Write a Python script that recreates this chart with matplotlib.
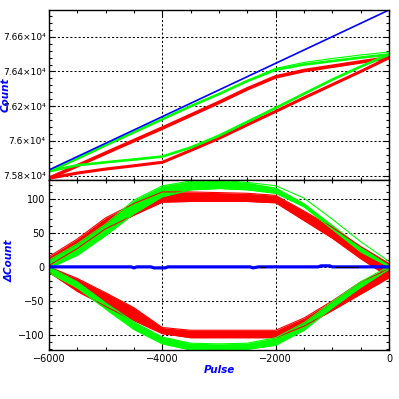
import matplotlib
matplotlib.use("Agg")
import matplotlib.pyplot as plt
from matplotlib.ticker import MultipleLocator, FuncFormatter

# ---------------- data ----------------
X = [-6000, -5500, -5000, -4500, -4000, -3500, -3000, -2500, -2000, -1500, -1000, -500, 0]

# top panel: Count
TOP_BLUE_X = [-6000, 0]
TOP_BLUE = [75833, 76754]
TOP_GREEN_UP = [75823, 75898, 75975, 76050, 76125, 76200, 76270, 76345, 76410, 76440, 76460, 76480, 76498]
TOP_GREEN_UP_OUT = [75823, 75898, 75975, 76050, 76125, 76200, 76270, 76348, 76418, 76452, 76475, 76495, 76512]
TOP_RED_UP = [75785, 75857, 75930, 76002, 76074, 76148, 76222, 76300, 76369, 76405, 76430, 76455, 76479]
TOP_GREEN_LO = [75825, 75860, 75877, 75893, 75910, 75962, 76030, 76110, 76190, 76272, 76353, 76428, 76498]
TOP_RED_LO = [75785, 75815, 75838, 75857, 75877, 75945, 76015, 76093, 76170, 76248, 76324, 76400, 76479]

# bottom panel: delta Count (band edges)
G_UP_HI = [10, 34, 63, 98, 119, 126, 127, 124, 117, 94, 62, 30, 3]
G_UP_LO = [-2, 17, 46, 78, 103, 113, 115, 113, 108, 88, 55, 22, 0]
G_UP_OUT = [10, 34, 63, 98, 119, 126, 127, 124, 119, 101, 70, 37, 8]
R_UP_HI = [15, 41, 72, 93, 110, 110, 109, 108, 105, 82, 58, 30, 5]
R_UP_LO = [2, 27, 56, 76, 95, 96, 96, 96, 94, 68, 42, 12, -15]
G_LO_HI = [0, -22, -53, -81, -103, -112, -113, -112, -104, -82, -51, -22, 1]
G_LO_LO = [-9, -31, -62, -92, -113, -122, -123, -121, -115, -93, -60, -30, -3]
R_LO_HI = [0, -17, -38, -60, -89, -93, -93, -93, -93, -75, -50, -22, -3]
R_LO_LO = [-8, -36, -58, -79, -98, -104, -104, -104, -104, -87, -64, -40, -16]

BLUE_X = [-6000, -4550, -4500, -4450, -4200, -4150, -3950, -3900, -2450, -2400, -2300, -1250, -1200, -1050, -1000, 0]
BLUE_Y = [0, 0, -1.5, 0, 0, -1.5, -1.5, 0, 0, -1.5, 0, 0, 1.5, 1.5, 0, 0]
BLACK_SEGS = [(-2280, -2180), (-950, -550)]

TOP_YTICKS = [75800, 76000, 76200, 76400, 76600]
BOT_YTICKS = [-100, -50, 0, 50, 100]
XTICKS = [-6000, -4000, -2000, 0]

RED = "#ff0000"
GREEN = "#00ff00"
BLUE = "#0000ff"

# ---------------- figure ----------------
W = 399
fig = plt.figure(figsize=(3.99, 3.99), dpi=100)
ax1 = fig.add_axes([49 / W, 1 - 180 / W, 340 / W, 170 / W])
ax2 = fig.add_axes([49 / W, 1 - 350 / W, 340 / W, 170 / W])

# top
ax1.plot(X, TOP_RED_LO, color=RED, lw=2.2, solid_capstyle="butt")
ax1.plot(X, TOP_RED_UP, color=RED, lw=2.6, solid_capstyle="butt")
ax1.plot(X, TOP_GREEN_LO, color=GREEN, lw=1.9, solid_capstyle="butt")
ax1.plot(X, TOP_GREEN_UP_OUT, color=GREEN, lw=0.8)
ax1.plot(X, TOP_GREEN_UP, color=GREEN, lw=1.9, solid_capstyle="butt")
ax1.plot(TOP_BLUE_X, TOP_BLUE, color=BLUE, lw=1.2)
ax1.set_ylim(75775, 76754)

# bottom
ax2.fill_between(X, R_UP_LO, R_UP_HI, color=RED, lw=0)
ax2.plot(X, R_UP_LO, color=RED, lw=0.8)
ax2.plot(X, R_UP_HI, color=RED, lw=0.8)
ax2.fill_between(X, R_LO_LO, R_LO_HI, color=RED, lw=0)
ax2.plot(X, R_LO_LO, color=RED, lw=0.8)
ax2.plot(X, R_LO_HI, color=RED, lw=0.8)
ax2.fill_between(X, G_UP_LO, G_UP_HI, color=GREEN, lw=0)
ax2.plot(X, G_UP_OUT, color=GREEN, lw=0.8)
ax2.plot(X, G_UP_LO, color=GREEN, lw=0.8)
ax2.fill_between(X, G_LO_LO, G_LO_HI, color=GREEN, lw=0)
ax2.plot(X, G_LO_LO, color=GREEN, lw=0.8)
ax2.plot(X, G_LO_HI, color=GREEN, lw=0.8)
ax2.plot(BLUE_X, BLUE_Y, color=BLUE, lw=2.3)
for a, b in BLACK_SEGS:
    ax2.plot([a, b], [0.5, 0.5], color="black", lw=0.8)
ax2.set_ylim(-122, 127.5)


def sci(v, pos):
    s = ("%g" % (v / 1e4))
    return "%s\u00d710\u2074" % s


for ax in (ax1, ax2):
    ax.set_xlim(-6000, 0)
    ax.set_xticks(XTICKS)
    ax.xaxis.set_minor_locator(MultipleLocator(500))
    ax.grid(True, which="major", color="black", linestyle=(0, (2, 2)), lw=0.75)
    ax.tick_params(which="both", direction="in", top=True, right=True,
                   labelsize=7, width=0.8, pad=3)
    ax.tick_params(which="major", length=4.5)
    ax.tick_params(which="minor", length=2.2)
    for s in ax.spines.values():
        s.set_linewidth(1.0)
    ax.set_axisbelow(True)

ax1.set_yticks(TOP_YTICKS)
ax1.yaxis.set_minor_locator(MultipleLocator(40))
ax1.yaxis.set_major_formatter(FuncFormatter(sci))
ax1.tick_params(axis="x", labelbottom=False)
ax1.tick_params(axis="y", labelsize=6.5, pad=2.5)

ax2.set_yticks(BOT_YTICKS)
ax2.yaxis.set_minor_locator(MultipleLocator(10))
ax2.set_xticklabels(["\u22126000", "\u22124000", "\u22122000", "0"])
ax2.set_yticklabels(["\u2212100", "\u221250", "0", "50", "100"])

fig.text(6 / W, 1 - 95 / W, "Count", rotation=90, color=BLUE, fontsize=7.5,
         style="italic", weight="bold", ha="center", va="center")
fig.text(10 / W, 1 - 261 / W, "\u0394Count", rotation=90, color=BLUE, fontsize=7.5,
         style="italic", weight="bold", ha="center", va="center")
fig.text(219 / W, 1 - 370 / W, "Pulse", color=BLUE, fontsize=7.5,
         style="italic", weight="bold", ha="center", va="center")

fig.savefig("out.png", dpi=100)
